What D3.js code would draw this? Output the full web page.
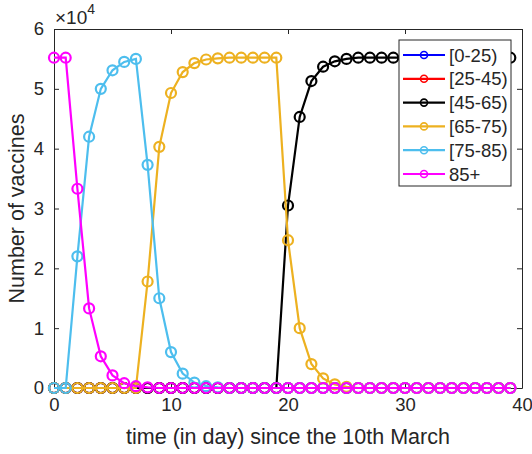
<!DOCTYPE html>
<html>
<head>
<meta charset="utf-8">
<script src="https://cdn.jsdelivr.net/npm/d3@7"></script>
<style>
  body { margin: 0; background: #fff; }
  svg { display: block; font-family: "Liberation Sans", Arial, sans-serif; }
</style>
</head>
<body>
<div id="chart"></div>
<script>
// days since the 10th March
var days = d3.range(0, 40)

var groupNames = ['[0-25)', '[25-45)', '[45-65)', '[65-75)', '[75-85)', '85+']
var groupColors = ['#0000ff', '#ff0000', '#000000', '#edb120', '#4dbeee', '#ff00ff']

var age0_25 = [0,0,0,0,0,0,0,0,0,0, 0,0,0,0,0,0,0,0,0,0, 0,0,0,0,0,0,0,0,0,0, 0,0,0,0,0,0,0,0,0,0]
var age25_45 = [0,0,0,0,0,0,0,0,0,0, 0,0,0,0,0,0,0,0,0,0, 0,0,0,0,0,0,0,0,0,0, 0,0,0,0,0,0,0,0,0,0]
var age45_65 = [0,0,0,0,0,0,0,0,0,0, 0,0,0,0,0,0,0,0,0,0,
	30500,45300,51300,53700,54600,55000,55200,55200,55200,55200,
	55200,55200,55200,55200,55200,55200,55200,55200,55200,55200]
var age65_75 = [0,0,0,0,0,0,0,0,17800,40300,
	49300,52800,54300,54900,55100,55200,55200,55200,55200,55200,
	24700,10000,4000,1600,600,200,0,0,0,0,
	0,0,0,0,0,0,0,0,0,0]
var age75_85 = [0,0,22000,42000,50000,53100,54500,55000,37300,15000,
	6000,2400,900,300,100,0,0,0,0,0,
	0,0,0,0,0,0,0,0,0,0, 0,0,0,0,0,0,0,0,0,0]
var age85 = [55200,55200,33300,13300,5300,2100,800,300,100,0,
	0,0,0,0,0,0,0,0,0,0, 0,0,0,0,0,0,0,0,0,0, 0,0,0,0,0,0,0,0,0,0]

var series = [age0_25, age25_45, age45_65, age65_75, age75_85, age85]

var xTicks = [0, 10, 20, 30, 40]
var yTicks = [0, 10000, 20000, 30000, 40000, 50000, 60000]

var W = 532, H = 454
var margin = {left: 54, right: 10, top: 29, bottom: 66}
var axisColor = '#262626'

var svg = d3.select('#chart').append('svg')
	.attr('width', W)
	.attr('height', H)

var x = d3.scaleLinear().domain([0, 40]).range([margin.left, W - margin.right])
var y = d3.scaleLinear().domain([0, 60000]).range([H - margin.bottom, margin.top])

let tickLen = 5

// axes (MATLAB style: ticks inside, box on)
svg.append('g')
	.attr('transform', `translate(0,${y(0)})`)
	.call(d3.axisBottom(x).tickValues(xTicks).tickSizeInner(-tickLen).tickSizeOuter(0).tickPadding(10))
svg.append('g')
	.attr('transform', `translate(0,${y(60000)})`)
	.call(d3.axisTop(x).tickValues(xTicks).tickSizeInner(-tickLen).tickSizeOuter(0).tickFormat(''))
svg.append('g')
	.attr('transform', `translate(${x(0)},0)`)
	.call(d3.axisLeft(y).tickValues(yTicks).tickSizeInner(-tickLen).tickSizeOuter(0).tickPadding(10)
		.tickFormat(d => d / 10000))
svg.append('g')
	.attr('transform', `translate(${x(40)},0)`)
	.call(d3.axisRight(y).tickValues(yTicks).tickSizeInner(-tickLen).tickSizeOuter(0).tickFormat(''))

svg.selectAll('.domain').attr('stroke', axisColor)
svg.selectAll('.tick line').attr('stroke', axisColor)
svg.selectAll('.tick text')
	.attr('fill', axisColor)
	.style('font-size', '18.5px')
	.style('font-family', '"Liberation Sans", Arial, sans-serif')

// the series, each one with its line and then its markers
let lineGen = d3.line().x((d, i) => x(days[i])).y(d => y(d))

series.forEach((vals, k) => {
	let g = svg.append('g')
	g.append('path')
		.datum(vals)
		.attr('d', lineGen)
		.attr('fill', 'none')
		.attr('stroke', groupColors[k])
		.attr('stroke-width', 2.2)
	g.selectAll('circle')
		.data(vals)
		.enter().append('circle')
		.attr('cx', (d, i) => x(days[i]))
		.attr('cy', d => y(d))
		.attr('r', 5)
		.attr('fill', 'none')
		.attr('stroke', groupColors[k])
		.attr('stroke-width', 2.2)
})

// exponent label
let expo = svg.append('text')
	.attr('x', x(0) + 1)
	.attr('y', 24)
	.attr('fill', axisColor)
	.style('font-size', '19px')
expo.append('tspan').style('font-size', '19px').text('×10')
expo.append('tspan').attr('dy', -10).style('font-size', '14px').text('4')

// axis labels
svg.append('text')
	.attr('x', (x(0) + x(40)) / 2)
	.attr('y', 444)
	.attr('text-anchor', 'middle')
	.attr('fill', axisColor)
	.style('font-size', '21.5px')
	.text('time (in day) since the 10th March')

svg.append('text')
	.attr('transform', `translate(24,${(y(0) + y(60000)) / 2}) rotate(-90)`)
	.attr('text-anchor', 'middle')
	.attr('fill', axisColor)
	.style('font-size', '21.5px')
	.text('Number of vaccines')

// legend
let legX = 399, legY = 40, legW = 112, legH = 146, rowH = 23.8
let legend = svg.append('g')
legend.append('rect')
	.attr('x', legX).attr('y', legY)
	.attr('width', legW).attr('height', legH)
	.attr('fill', '#fff')
	.attr('stroke', axisColor)
	.attr('stroke-width', 1)

groupNames.forEach((name, k) => {
	let cy = legY + 15 + k * rowH
	legend.append('line')
		.attr('x1', legX + 4).attr('x2', legX + 46)
		.attr('y1', cy).attr('y2', cy)
		.attr('stroke', groupColors[k])
		.attr('stroke-width', 2.2)
	legend.append('circle')
		.attr('cx', legX + 25).attr('cy', cy)
		.attr('r', 3.5)
		.attr('fill', 'none')
		.attr('stroke', groupColors[k])
		.attr('stroke-width', 1.6)
	legend.append('text')
		.attr('x', legX + 50).attr('y', cy + 6.5)
		.attr('fill', axisColor)
		.style('font-size', '18.5px')
		.text(name)
})
</script>
</body>
</html>
